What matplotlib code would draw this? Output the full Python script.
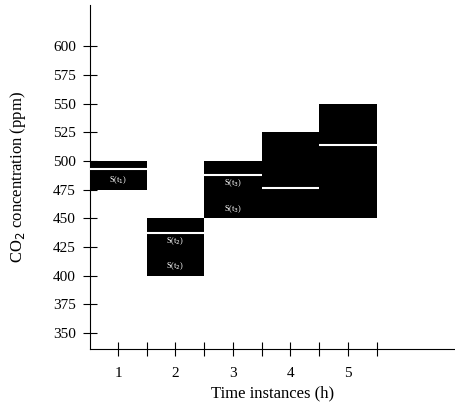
import matplotlib
matplotlib.use('Agg')
import matplotlib.pyplot as plt

plt.rcParams['font.family'] = ['Liberation Serif', 'DejaVu Serif']

# time instances and the CO2 interval bounds
hours = [1, 2, 3, 4, 5]
lower = [475, 400, 450, 450, 450]
upper = [500, 450, 500, 525, 550]
centre = [493, 437, 488, 476, 514]
y_ticks = [350, 375, 400, 425, 450, 475, 500, 525, 550, 575, 600]
inner_labels = {1: ['S(t$_1$)'], 2: ['S(t$_2$)', 'S(t$_2$)'], 3: ['S(t$_3$)', 'S(t$_3$)']}

fig = plt.figure(figsize=(4.56, 4.04), dpi=100)
ax = fig.add_axes([0.197, 0.136, 0.803, 0.852])

for h, lo, hi, c in zip(hours, lower, upper, centre):
    ax.bar(h, hi - lo, bottom=lo, width=1.0, color='black', zorder=2)
    ax.hlines(c, h - 0.5, h + 0.5, color='white', lw=1.5, zorder=3)

# tiny white annotations inside the first boxes
for h, labs in inner_labels.items():
    lo, hi, c = lower[h - 1], upper[h - 1], centre[h - 1]
    if len(labs) == 1:
        ys = [(lo + c) / 2 - 1]
    else:
        ys = [c - 7, lo + 8]
    for lab, y in zip(labs, ys):
        ax.text(h, y, lab, color='white', fontsize=6, ha='center', va='center', zorder=4)

ax.set_xlim(0.51, 6.88)
ax.set_ylim(336, 636)

ax.set_yticks(y_ticks)
ax.set_xticks(hours)
ax.set_xticks([1.5, 2.5, 3.5, 4.5, 5.5], minor=True)
ax.tick_params(axis='both', which='both', direction='inout', length=10, width=0.8,
               labelsize=11, colors='black')
ax.tick_params(axis='x', which='both', pad=8)
ax.tick_params(axis='y', pad=5)

for side in ['top', 'right']:
    ax.spines[side].set_visible(False)
ax.spines['left'].set_linewidth(0.8)
ax.spines['bottom'].set_linewidth(0.8)

ax.set_xlabel('Time instances (h)', fontsize=12, labelpad=4)
ax.set_ylabel('CO$_2$ concentration (ppm)', fontsize=12, labelpad=18)

fig.savefig('out.png', dpi=100)
